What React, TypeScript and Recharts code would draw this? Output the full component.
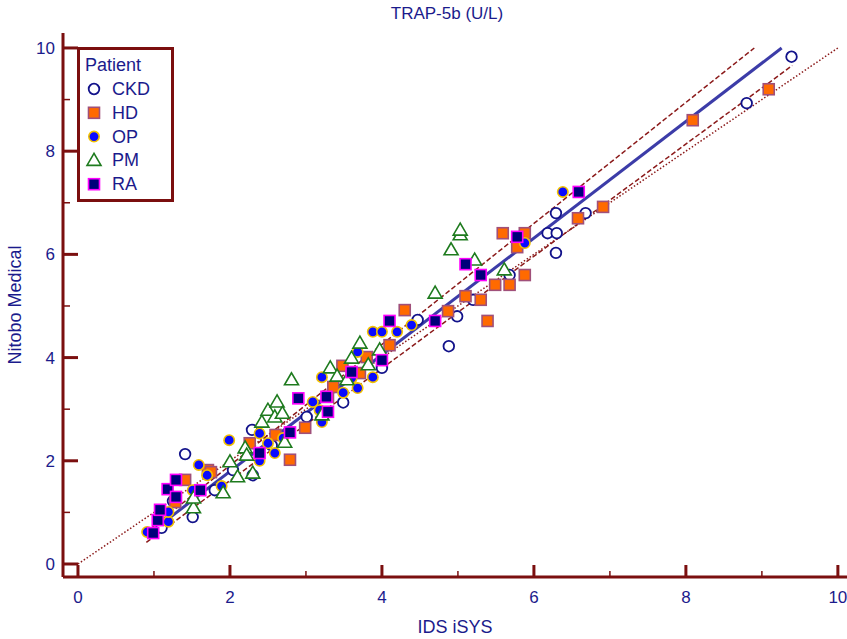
import React from 'react'
import { ScatterChart, Scatter, XAxis, YAxis, Legend, Label } from 'recharts'

// colours
const AXIS = '#7b0f0f'
const INK = '#1b1b8c'
const FONT = '"Liberation Sans", Arial, sans-serif'

const groups = ['CKD', 'HD', 'OP', 'PM', 'RA']
const xTicks = [0, 1, 2, 3, 4, 5, 6, 7, 8, 9, 10]
const yTicks = [0, 1, 2, 3, 4, 5, 6, 7, 8, 9, 10]

// [IDS iSYS, Nitobo Medical]
const ckd = [
  [1.41, 2.13], [1.8, 1.43], [1.51, 0.91], [1.1, 0.7], [1.25, 1.22], [2.29, 2.6], [2.04, 1.82],
  [2.3, 1.72], [2.55, 2.3], [3.01, 2.85], [3.49, 3.13], [4.0, 3.8], [4.47, 4.73], [4.99, 4.8],
  [4.88, 4.22], [5.2, 5.12], [5.68, 5.6], [6.18, 6.41], [6.3, 6.41], [6.29, 6.8], [6.29, 6.03],
  [6.68, 6.8], [8.8, 8.93], [9.39, 9.83],
]
const hd = [
  [1.28, 1.2], [1.41, 1.63], [1.71, 1.82], [1.75, 1.78], [2.26, 2.34], [2.6, 2.5], [2.79, 2.02],
  [2.99, 2.64], [3.29, 3.24], [3.36, 3.43], [3.48, 3.84], [3.71, 3.7], [3.8, 4.01], [4.1, 4.24],
  [4.3, 4.92], [4.87, 4.9], [5.1, 5.19], [5.3, 5.12], [5.39, 4.71], [5.49, 5.41], [5.68, 5.41],
  [5.88, 5.6], [5.59, 6.41], [5.88, 6.41], [5.78, 6.14], [6.58, 6.7], [6.91, 6.92], [8.09, 8.6],
  [9.09, 9.2],
]
const op = [
  [0.91, 0.62], [1.19, 0.82], [1.19, 1.01], [1.51, 1.43], [1.59, 1.92], [1.7, 1.72], [1.89, 1.51],
  [1.99, 2.4], [2.39, 2.0], [2.39, 2.53], [2.5, 2.34], [2.59, 2.15], [2.7, 2.44], [3.09, 3.14],
  [3.18, 2.98], [3.21, 2.75], [3.21, 3.62], [3.49, 3.32], [3.6, 3.6], [3.68, 3.41], [3.68, 4.11],
  [3.88, 3.62], [3.88, 4.5], [4.0, 4.5], [4.2, 4.5], [4.39, 4.63], [5.88, 6.22], [6.38, 7.21],
]
const pm = [
  [1.52, 1.09], [1.52, 1.28], [1.91, 1.38], [2.0, 1.98], [2.1, 1.69], [2.2, 2.25], [2.22, 2.11],
  [2.3, 1.76], [2.42, 2.75], [2.5, 2.98], [2.59, 2.85], [2.62, 3.14], [2.69, 2.92], [2.72, 2.36],
  [2.81, 3.57], [3.21, 2.89], [3.32, 3.8], [3.41, 3.64], [3.54, 3.57], [3.6, 3.99], [3.71, 4.28],
  [3.82, 3.86], [3.97, 4.15], [4.7, 5.25], [4.91, 6.09], [5.03, 6.38], [5.03, 6.47], [5.22, 5.89],
  [5.61, 5.7],
]
const ra = [
  [0.99, 0.6], [1.05, 0.85], [1.08, 1.05], [1.18, 1.45], [1.29, 1.3], [1.29, 1.63], [1.61, 1.43],
  [2.39, 2.15], [2.79, 2.55], [2.9, 3.21], [3.27, 3.24], [3.29, 2.95], [3.6, 3.72], [4.0, 3.95],
  [4.1, 4.71], [4.7, 4.71], [5.1, 5.81], [5.3, 5.6], [5.78, 6.34], [6.59, 7.21],
]

// fit line, its confidence bounds and the identity line (end points)
const fitLine = [[0.9, 0.55], [9.26, 10.0]]
const upperBound = [[0.9, 0.62], [8.9, 10.0]]
const lowerBound = [[0.9, 0.42], [9.4, 9.66]]
const identity = [[0, 0], [10, 10]]

const pts = (a: number[][]) => a.map(([x, y]) => ({ x, y }))

const CkdDot = (p: any) => <circle cx={p.cx} cy={p.cy} r={5.3} fill="#fff" stroke="#12128a" strokeWidth={1.8} />
const HdDot = (p: any) => <rect x={p.cx - 5.5} y={p.cy - 5.5} width={11} height={11} fill="#ff6a00" stroke="#a0507a" strokeWidth={1.6} />
const OpDot = (p: any) => <circle cx={p.cx} cy={p.cy} r={5.2} fill="#0a0aff" stroke="#f2c200" strokeWidth={1.6} />
const PmDot = (p: any) => (
  <polygon points={`${p.cx},${p.cy - 7} ${p.cx - 7},${p.cy + 5} ${p.cx + 7},${p.cy + 5}`} fill="#fff" stroke="#1e7b1e" strokeWidth={1.6} />
)
const RaDot = (p: any) => <rect x={p.cx - 5.5} y={p.cy - 5.5} width={11} height={11} fill="#00007a" stroke="#ff00ff" strokeWidth={1.6} />
const NoDot = () => <g />

const shapes: Record<string, (p: any) => React.ReactElement> = { CKD: CkdDot, HD: HdDot, OP: OpDot, PM: PmDot, RA: RaDot }

const XTick = (props: any) => {
  const { x, y, payload } = props
  const major = payload.value % 2 === 0
  return (
    <g>
      <line x1={x} x2={x} y1={y} y2={y - (major ? 12 : 6)} stroke={AXIS} strokeWidth={major ? 3 : 1.5} />
      {major && (
        <text x={x} y={y + 26} textAnchor="middle" fill={INK} fontSize={17} fontFamily={FONT}>
          {payload.value}
        </text>
      )}
    </g>
  )
}

const YTick = (props: any) => {
  const { x, y, payload } = props
  const major = payload.value % 2 === 0
  return (
    <g>
      <line x1={x} x2={x + (major ? 15 : 7)} y1={y} y2={y} stroke={AXIS} strokeWidth={major ? 3 : 1.5} />
      {major && (
        <text x={x - 8} y={y + 6} textAnchor="end" fill={INK} fontSize={17} fontFamily={FONT}>
          {payload.value}
        </text>
      )}
    </g>
  )
}

const PatientLegend = () => (
  <svg width={97} height={155} style={{ display: 'block' }}>
    <rect x={1.5} y={1.5} width={94} height={152} fill="#fff" stroke={AXIS} strokeWidth={3} />
    <text x={8} y={24} fill={INK} fontSize={18} fontFamily={FONT}>Patient</text>
    {groups.map((g, i) => {
      const cy = 42 + i * 23.8
      const Dot = shapes[g]
      return (
        <g key={g}>
          <Dot cx={17} cy={cy} />
          <text x={35} y={cy + 6} fill={INK} fontSize={18} fontFamily={FONT}>{g}</text>
        </g>
      )
    })}
  </svg>
)

export default function App() {
  return (
    <div style={{ position: 'absolute', left: 0, top: 0, width: 847, height: 639, background: '#fff', fontFamily: FONT }}>
      <div style={{ position: 'absolute', left: 0, top: 4, width: 894, textAlign: 'center', fontSize: 17, lineHeight: '20px', color: INK }}>
        TRAP-5b (U/L)
      </div>
      <ScatterChart width={847} height={639} margin={{ top: 33, right: 0, left: 0, bottom: 0 }}>
        <XAxis
          type="number"
          dataKey="x"
          domain={[-0.197, 10.12]}
          ticks={xTicks}
          allowDataOverflow
          height={62}
          tickSize={0}
          tickMargin={0}
          tickLine={false}
          tick={<XTick />}
          axisLine={{ stroke: AXIS, strokeWidth: 3 }}
        >
          <Label value="IDS iSYS" position="insideBottom" offset={6} fill={INK} fontSize={18} fontFamily={FONT} />
        </XAxis>
        <XAxis
          xAxisId="top"
          orientation="top"
          type="number"
          domain={[-0.197, 10.12]}
          height={0}
          tick={false}
          tickLine={false}
          axisLine={{ stroke: AXIS, strokeWidth: 3 }}
        />
        <YAxis
          type="number"
          dataKey="y"
          domain={[-0.252, 10.29]}
          ticks={yTicks}
          allowDataOverflow
          width={63}
          tickSize={0}
          tickMargin={0}
          tickLine={false}
          tick={<YTick />}
          axisLine={{ stroke: AXIS, strokeWidth: 3 }}
        >
          <Label value="Nitobo Medical" angle={-90} position="insideLeft" offset={15} fill={INK} fontSize={18} fontFamily={FONT} style={{ textAnchor: 'middle' }} />
        </YAxis>
        <Legend
          layout="vertical"
          align="center"
          verticalAlign="middle"
          wrapperStyle={{ left: 77, top: 47, width: 97, height: 155 }}
          content={<PatientLegend />}
        />
        <Scatter data={pts(identity)} shape={NoDot} line={{ stroke: '#8b1a1a', strokeWidth: 1.5, strokeDasharray: '1.5 2' }} legendType="none" isAnimationActive={false} />
        <Scatter data={pts(upperBound)} shape={NoDot} line={{ stroke: '#8b1a1a', strokeWidth: 1.5, strokeDasharray: '5 2.5' }} legendType="none" isAnimationActive={false} />
        <Scatter data={pts(lowerBound)} shape={NoDot} line={{ stroke: '#8b1a1a', strokeWidth: 1.5, strokeDasharray: '5 2.5' }} legendType="none" isAnimationActive={false} />
        <Scatter data={pts(fitLine)} shape={NoDot} line={{ stroke: '#3c3ca8', strokeWidth: 3 }} legendType="none" isAnimationActive={false} />
        <Scatter name="CKD" data={pts(ckd)} shape={CkdDot} isAnimationActive={false} />
        <Scatter name="HD" data={pts(hd)} shape={HdDot} isAnimationActive={false} />
        <Scatter name="OP" data={pts(op)} shape={OpDot} isAnimationActive={false} />
        <Scatter name="PM" data={pts(pm)} shape={PmDot} isAnimationActive={false} />
        <Scatter name="RA" data={pts(ra)} shape={RaDot} isAnimationActive={false} />
      </ScatterChart>
    </div>
  )
}
